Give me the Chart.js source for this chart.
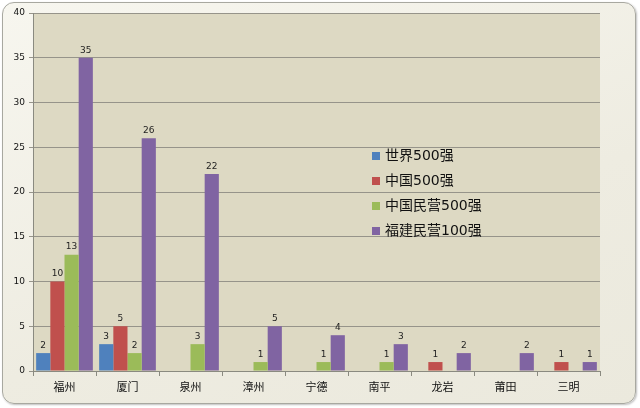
<!DOCTYPE html>
<html>
<head>
<meta charset="utf-8">
<script src="https://cdn.jsdelivr.net/npm/chart.js@4"></script>
<style>
  html, body { margin: 0; padding: 0; background: #fff; }
  #frame {
    position: absolute; left: 2px; top: 2px; width: 632px; height: 400px;
    border: 1px solid #a8a8a0; border-radius: 12px;
    background: linear-gradient(160deg, #f7f6ef 0%, #eeece1 60%, #ebe9dd 100%);
    box-shadow: 1px 1px 2px rgba(0,0,0,0.25);
  }
  #chart { position: absolute; left: 0; top: 0; }
</style>
</head>
<body>
<div id="frame"></div>
<canvas id="chart" width="640" height="408"></canvas>
<script>
const cities = ['福州', '厦门', '泉州', '漳州', '宁德', '南平', '龙岩', '莆田', '三明'];
const world500 = [2, 3, null, null, null, null, null, null, null];
const china500 = [10, 5, null, null, null, null, 1, null, 1];
const privateChina500 = [13, 2, 3, 1, 1, 1, null, null, null];
const privateFujian100 = [35, 26, 22, 5, 4, 3, 2, 2, 1];
const yTicks = [0, 5, 10, 15, 20, 25, 30, 35, 40];

const fontFamily = '"DejaVu Sans", "Noto Sans CJK SC", sans-serif';

// fill the plot area
const plotBg = {
	id: 'plotBg',
	beforeDraw(chart) {
		const { ctx, chartArea: a } = chart;
		ctx.save();
		ctx.fillStyle = '#ddd9c3';
		ctx.fillRect(a.left, a.top, a.right - a.left, a.bottom - a.top);
		ctx.restore();
	}
};

// numbers above bars
const barLabels = {
	id: 'barLabels',
	afterDatasetsDraw(chart) {
		const ctx = chart.ctx;
		ctx.save();
		ctx.font = '9px ' + fontFamily;
		ctx.fillStyle = '#222';
		ctx.textAlign = 'center';
		ctx.textBaseline = 'bottom';
		chart.data.datasets.forEach((ds, i) => {
			chart.getDatasetMeta(i).data.forEach((bar, j) => {
				const v = ds.data[j];
				if (v == null) return;
				ctx.fillText(v, bar.x, bar.y - 3);
			});
		});
		ctx.restore();
	}
};

// legend inside the plot
const innerLegend = {
	id: 'innerLegend',
	afterDraw(chart) {
		const ctx = chart.ctx;
		ctx.save();
		ctx.font = '14px ' + fontFamily;
		ctx.textBaseline = 'middle';
		chart.data.datasets.forEach((ds, i) => {
			const y = 156 + i * 25;
			ctx.fillStyle = ds.backgroundColor;
			ctx.fillRect(372, y - 4, 8, 8);
			ctx.fillStyle = '#111';
			ctx.fillText(ds.label, 385, y);
		});
		ctx.restore();
	}
};

new Chart(document.getElementById('chart'), {
	type: 'bar',
	data: {
		labels: cities,
		datasets: [
			{ label: '世界500强', data: world500, backgroundColor: '#4f81bd' },
			{ label: '中国500强', data: china500, backgroundColor: '#c0504d' },
			{ label: '中国民营500强', data: privateChina500, backgroundColor: '#9bbb59' },
			{ label: '福建民营100强', data: privateFujian100, backgroundColor: '#8064a2' }
		]
	},
	options: {
		responsive: false,
		animation: false,
		devicePixelRatio: 1,
		layout: { padding: { top: 13, right: 40, left: 0, bottom: 0 } },
		datasets: { bar: { categoryPercentage: 0.9, barPercentage: 1, skipNull: false } },
		plugins: { legend: { display: false }, tooltip: { enabled: false } },
		scales: {
			x: {
				grid: { offset: true, drawOnChartArea: false, color: '#8a8a80', tickLength: 5 },
				border: { color: '#8a8a80' },
				ticks: { color: '#111', font: { size: 11, family: fontFamily }, padding: 6, maxRotation: 0, autoSkip: false },
				afterFit: s => { s.height = 37; }
			},
			y: {
				min: 0, max: 40,
				afterBuildTicks: s => { s.ticks = yTicks.map(v => ({ value: v })); },
				grid: { color: '#96948a', tickLength: 4 },
				border: { color: '#8a8a80' },
				ticks: { color: '#111', font: { size: 9, family: fontFamily }, padding: 4, autoSkip: false },
				afterFit: s => { s.width = 33; }
			}
		}
	},
	plugins: [plotBg, barLabels, innerLegend]
});
</script>
</body>
</html>
